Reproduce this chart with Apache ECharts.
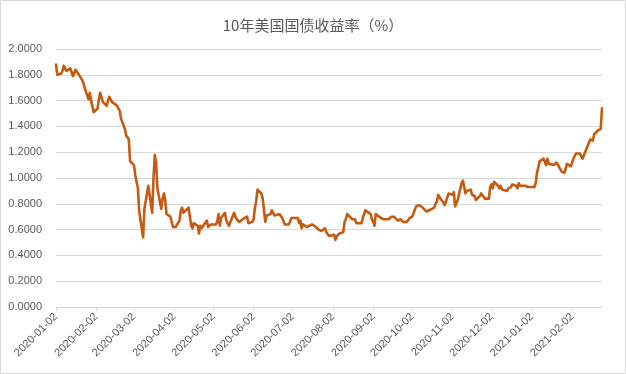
<!DOCTYPE html>
<html>
<head>
<meta charset="utf-8">
<script src="https://cdn.jsdelivr.net/npm/echarts@6/dist/echarts.min.js"></script>
<style>
html,body{margin:0;padding:0;background:#fff;}
#chart{width:626px;height:374px;}
</style>
</head>
<body>
<div id="chart"></div>
<script>
const chartTitle = '10年美国国债收益率（%）';
const axisStart = '2020-01-02';
const axisEnd = '2021-02-25';
const yTicks = [0, 0.2, 0.4, 0.6, 0.8, 1.0, 1.2, 1.4, 1.6, 1.8, 2.0];

const dates = [
'2020-01-02','2020-01-03','2020-01-06','2020-01-07','2020-01-08','2020-01-09','2020-01-10','2020-01-13','2020-01-14','2020-01-15','2020-01-16','2020-01-17','2020-01-21','2020-01-22','2020-01-23','2020-01-24','2020-01-27','2020-01-28','2020-01-29','2020-01-30','2020-01-31',
'2020-02-03','2020-02-04','2020-02-05','2020-02-06','2020-02-07','2020-02-10','2020-02-11','2020-02-12','2020-02-13','2020-02-14','2020-02-18','2020-02-19','2020-02-20','2020-02-21','2020-02-24','2020-02-25','2020-02-26','2020-02-27','2020-02-28',
'2020-03-02','2020-03-03','2020-03-04','2020-03-05','2020-03-06','2020-03-09','2020-03-10','2020-03-11','2020-03-12','2020-03-13','2020-03-16','2020-03-17','2020-03-18','2020-03-19','2020-03-20','2020-03-23','2020-03-24','2020-03-25','2020-03-26','2020-03-27','2020-03-30','2020-03-31',
'2020-04-01','2020-04-02','2020-04-03','2020-04-06','2020-04-07','2020-04-08','2020-04-09','2020-04-13','2020-04-14','2020-04-15','2020-04-16','2020-04-17','2020-04-20','2020-04-21','2020-04-22','2020-04-23','2020-04-24','2020-04-27','2020-04-28','2020-04-29','2020-04-30',
'2020-05-01','2020-05-04','2020-05-05','2020-05-06','2020-05-07','2020-05-08','2020-05-11','2020-05-12','2020-05-13','2020-05-14','2020-05-15','2020-05-18','2020-05-19','2020-05-20','2020-05-21','2020-05-22','2020-05-26','2020-05-27','2020-05-28','2020-05-29',
'2020-06-01','2020-06-02','2020-06-03','2020-06-04','2020-06-05','2020-06-08','2020-06-09','2020-06-10','2020-06-11','2020-06-12','2020-06-15','2020-06-16','2020-06-17','2020-06-18','2020-06-19','2020-06-22','2020-06-23','2020-06-24','2020-06-25','2020-06-26','2020-06-29','2020-06-30',
'2020-07-01','2020-07-02','2020-07-06','2020-07-07','2020-07-08','2020-07-09','2020-07-10','2020-07-13','2020-07-14','2020-07-15','2020-07-16','2020-07-17','2020-07-20','2020-07-21','2020-07-22','2020-07-23','2020-07-24','2020-07-27','2020-07-28','2020-07-29','2020-07-30','2020-07-31',
'2020-08-03','2020-08-04','2020-08-05','2020-08-06','2020-08-07','2020-08-10','2020-08-11','2020-08-12','2020-08-13','2020-08-14','2020-08-17','2020-08-18','2020-08-19','2020-08-20','2020-08-21','2020-08-24','2020-08-25','2020-08-26','2020-08-27','2020-08-28','2020-08-31',
'2020-09-01','2020-09-02','2020-09-03','2020-09-04','2020-09-08','2020-09-09','2020-09-10','2020-09-11','2020-09-14','2020-09-15','2020-09-16','2020-09-17','2020-09-18','2020-09-21','2020-09-22','2020-09-23','2020-09-24','2020-09-25','2020-09-28','2020-09-29','2020-09-30',
'2020-10-01','2020-10-02','2020-10-05','2020-10-06','2020-10-07','2020-10-08','2020-10-09','2020-10-13','2020-10-14','2020-10-15','2020-10-16','2020-10-19','2020-10-20','2020-10-21','2020-10-22','2020-10-23','2020-10-26','2020-10-27','2020-10-28','2020-10-29','2020-10-30',
'2020-11-02','2020-11-03','2020-11-04','2020-11-05','2020-11-06','2020-11-09','2020-11-10','2020-11-12','2020-11-13','2020-11-16','2020-11-17','2020-11-18','2020-11-19','2020-11-20','2020-11-23','2020-11-24','2020-11-25','2020-11-27','2020-11-30',
'2020-12-01','2020-12-02','2020-12-03','2020-12-04','2020-12-07','2020-12-08','2020-12-09','2020-12-10','2020-12-11','2020-12-14','2020-12-15','2020-12-16','2020-12-17','2020-12-18','2020-12-21','2020-12-22','2020-12-23','2020-12-24','2020-12-28','2020-12-29','2020-12-30','2020-12-31',
'2021-01-04','2021-01-05','2021-01-06','2021-01-07','2021-01-08','2021-01-11','2021-01-12','2021-01-13','2021-01-14','2021-01-15','2021-01-19','2021-01-20','2021-01-21','2021-01-22','2021-01-25','2021-01-26','2021-01-27','2021-01-28','2021-01-29',
'2021-02-01','2021-02-02','2021-02-03','2021-02-04','2021-02-05','2021-02-08','2021-02-09','2021-02-10','2021-02-11','2021-02-12','2021-02-16','2021-02-17','2021-02-18','2021-02-19','2021-02-22','2021-02-23','2021-02-24','2021-02-25'
];

const yields = [
1.88,1.80,1.81,1.83,1.87,1.85,1.83,1.85,1.82,1.79,1.81,1.84,1.78,1.77,1.74,1.70,1.61,1.66,1.60,1.59,1.51,
1.54,1.61,1.66,1.65,1.59,1.56,1.60,1.63,1.61,1.59,1.56,1.57,1.52,1.46,1.38,1.33,1.33,1.30,1.13,
1.10,1.02,1.02,0.92,0.74,0.54,0.76,0.82,0.88,0.94,0.73,1.00,1.18,1.12,0.92,0.76,0.84,0.88,0.83,0.72,0.70,0.70,
0.62,0.63,0.62,0.67,0.75,0.77,0.73,0.77,0.76,0.63,0.61,0.65,0.63,0.57,0.63,0.61,0.60,0.67,0.62,0.63,0.64,
0.64,0.64,0.66,0.72,0.63,0.69,0.73,0.67,0.66,0.63,0.64,0.73,0.70,0.68,0.68,0.66,0.69,0.69,0.70,0.65,
0.66,0.68,0.77,0.82,0.91,0.88,0.84,0.75,0.66,0.71,0.72,0.75,0.74,0.71,0.70,0.72,0.72,0.69,0.68,0.64,0.64,0.66,
0.69,0.68,0.69,0.65,0.67,0.61,0.64,0.62,0.63,0.63,0.62,0.64,0.62,0.61,0.60,0.59,0.59,0.61,0.58,0.58,0.55,0.55,
0.56,0.52,0.55,0.55,0.57,0.58,0.66,0.68,0.72,0.71,0.68,0.67,0.68,0.65,0.64,0.65,0.69,0.69,0.75,0.74,0.72,
0.68,0.66,0.63,0.72,0.69,0.70,0.68,0.67,0.68,0.68,0.70,0.69,0.70,0.67,0.67,0.68,0.67,0.66,0.66,0.65,0.69,
0.68,0.70,0.78,0.79,0.79,0.78,0.78,0.74,0.74,0.75,0.75,0.77,0.80,0.82,0.87,0.85,0.81,0.79,0.79,0.85,0.88,
0.87,0.89,0.78,0.79,0.83,0.96,0.98,0.88,0.90,0.91,0.87,0.88,0.86,0.83,0.86,0.88,0.88,0.84,0.84,
0.93,0.95,0.92,0.97,0.94,0.92,0.94,0.91,0.90,0.90,0.92,0.92,0.93,0.95,0.94,0.92,0.96,0.94,0.94,0.94,0.93,0.93,
0.93,0.96,1.04,1.08,1.13,1.15,1.15,1.10,1.15,1.11,1.10,1.10,1.12,1.11,1.05,1.05,1.04,1.07,1.11,
1.09,1.12,1.15,1.15,1.19,1.19,1.17,1.15,1.16,1.20,1.30,1.29,1.29,1.34,1.37,1.37,1.38,1.54
];

// calendar-day categories for the date axis
function pad(n){return n<10?'0'+n:''+n;}
const calendarDays = [];
(function(){
  const d = new Date(axisStart + 'T00:00:00Z');
  const end = new Date(axisEnd + 'T00:00:00Z');
  while (d <= end) {
    calendarDays.push(d.getUTCFullYear()+'-'+pad(d.getUTCMonth()+1)+'-'+pad(d.getUTCDate()));
    d.setUTCDate(d.getUTCDate()+1);
  }
})();

const isMonthTick = function(idx, val){ return String(val).slice(8) === '02'; };

const chart = echarts.init(document.getElementById('chart'), null, {renderer:'canvas'});
chart.setOption({
  animation: false,
  backgroundColor: '#ffffff',
  title: {
    text: chartTitle,
    left: 'center',
    top: 13,
    textStyle: {fontFamily: '"Noto Sans CJK SC", sans-serif', fontSize: 15, fontWeight: 'normal', color: '#595959'}
  },
  graphic: [{
    type: 'rect', silent: true, z: -1,
    shape: {x: 0.5, y: 0.5, width: 625, height: 373},
    style: {fill: 'none', stroke: '#D9D9D9', lineWidth: 1}
  }],
  grid: {left: 56, right: 24, top: 49, bottom: 67, containLabel: false},
  xAxis: {
    type: 'category',
    data: calendarDays,
    boundaryGap: false,
    axisLine: {show: true, lineStyle: {color: '#D9D9D9', width: 1}},
    axisTick: {show: true, interval: isMonthTick, length: 4, lineStyle: {color: '#D9D9D9'}},
    axisLabel: {
      interval: isMonthTick,
      rotate: 45,
      margin: 8,
      hideOverlap: false,
      color: '#595959',
      fontSize: 11,
      fontFamily: '"Liberation Sans", Arial, sans-serif'
    },
    splitLine: {show: false}
  },
  yAxis: {
    type: 'value',
    min: yTicks[0],
    max: yTicks[yTicks.length-1],
    interval: 0.2,
    axisLine: {show: false},
    axisTick: {show: false},
    axisLabel: {
      margin: 14,
      color: '#595959',
      fontSize: 11,
      fontFamily: '"Liberation Sans", Arial, sans-serif',
      formatter: function(v){ return v.toFixed(4); }
    },
    splitLine: {show: true, lineStyle: {color: '#D9D9D9', width: 1}}
  },
  series: [{
    type: 'line',
    data: dates.map(function(d, i){ return [d, yields[i]]; }),
    showSymbol: false,
    symbol: 'none',
    smooth: false,
    lineStyle: {color: '#C55A11', width: 2.6, join: 'round', cap: 'round'},
    itemStyle: {color: '#C55A11'}
  }]
});
</script>
</body>
</html>
